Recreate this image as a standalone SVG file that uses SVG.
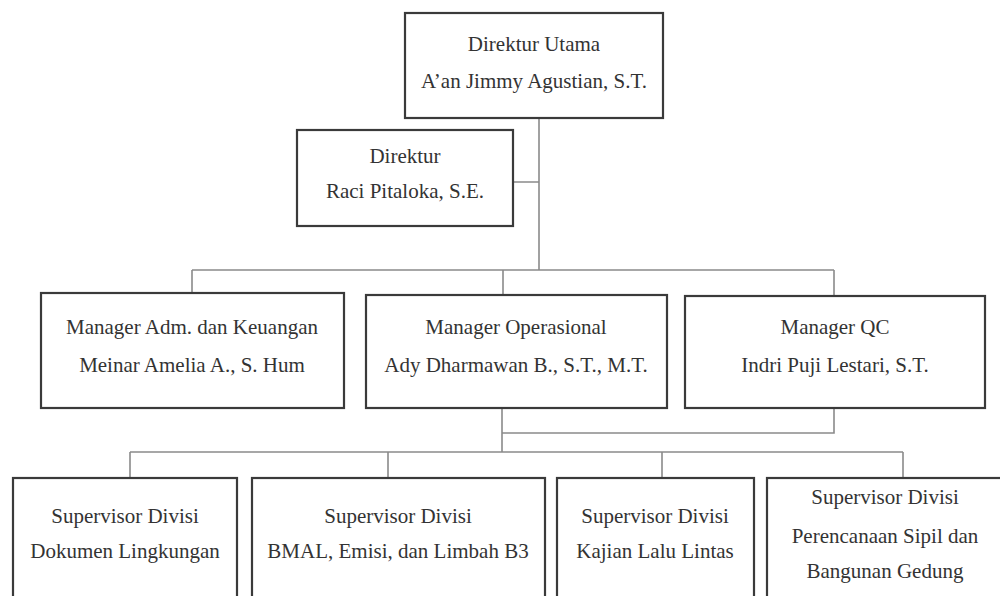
<svg xmlns="http://www.w3.org/2000/svg" width="1000" height="596" viewBox="0 0 1000 596">
<style>
.box{fill:#fff;stroke:#3a3a3a;stroke-width:2.2}
.t{font-family:'Liberation Serif','Times New Roman',serif;font-size:21px;fill:#333;text-anchor:middle}
.c{fill:none;stroke:#8a8a8a;stroke-width:1.6}
</style>
<rect width="1000" height="596" fill="#fff"/>
<g id="connectors">
<path class="c" d="M539 118V270M513 182H539M192 270H834M192 270V293M503 270V295M834 270V296"/>
<path class="c" d="M502 408V452M834 408V433H502M130 452H903M130 452V478M388 452V478M662 452V478M903 452V478"/>
</g>
<g id="direktur-utama">
<rect class="box" x="405" y="13" width="258" height="105"/>
<text class="t" x="534" y="51">Direktur Utama</text>
<text class="t" x="534" y="88">A’an Jimmy Agustian, S.T.</text>
</g>
<g id="direktur">
<rect class="box" x="297" y="130" width="216" height="96"/>
<text class="t" x="405" y="163">Direktur</text>
<text class="t" x="405" y="198">Raci Pitaloka, S.E.</text>
</g>
<g id="manager-adm">
<rect class="box" x="41" y="293" width="303" height="115"/>
<text class="t" x="192" y="334">Manager Adm. dan Keuangan</text>
<text class="t" x="192" y="372">Meinar Amelia A., S. Hum</text>
</g>
<g id="manager-operasional">
<rect class="box" x="366" y="295" width="301" height="113"/>
<text class="t" x="516" y="334">Manager Operasional</text>
<text class="t" x="516" y="372">Ady Dharmawan B., S.T., M.T.</text>
</g>
<g id="manager-qc">
<rect class="box" x="685" y="296" width="300" height="112"/>
<text class="t" x="835" y="334">Manager QC</text>
<text class="t" x="835" y="372">Indri Puji Lestari, S.T.</text>
</g>
<g id="sup-dokumen">
<rect class="box" x="13" y="478" width="224" height="125"/>
<text class="t" x="125" y="523">Supervisor Divisi</text>
<text class="t" x="125" y="558">Dokumen Lingkungan</text>
</g>
<g id="sup-bmal">
<rect class="box" x="252" y="478" width="293" height="125"/>
<text class="t" x="398" y="523">Supervisor Divisi</text>
<text class="t" x="398" y="558">BMAL, Emisi, dan Limbah B3</text>
</g>
<g id="sup-kajian">
<rect class="box" x="557" y="478" width="197" height="125"/>
<text class="t" x="655" y="523">Supervisor Divisi</text>
<text class="t" x="655" y="558">Kajian Lalu Lintas</text>
</g>
<g id="sup-perencanaan">
<rect class="box" x="767" y="478" width="245" height="125"/>
<text class="t" x="885" y="504">Supervisor Divisi</text>
<text class="t" x="885" y="543">Perencanaan Sipil dan</text>
<text class="t" x="885" y="578">Bangunan Gedung</text>
</g>
</svg>
